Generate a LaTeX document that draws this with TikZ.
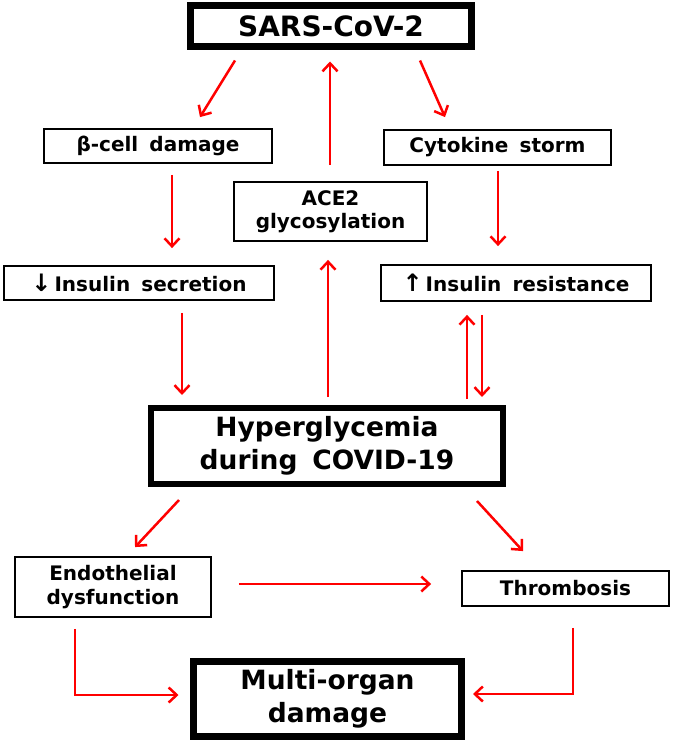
\documentclass[tikz,border=0pt]{standalone}
\usepackage{fontspec}
\setmainfont{DejaVu Sans}[WordSpace={1.6}]
\usepackage{tikz}
\usetikzlibrary{arrows.meta}

\tikzset{
  box/.style={draw, line width=1.8pt, inner sep=0pt, align=center,
    font=\fontsize{20}{23.5}\selectfont\bfseries},
  bigbox/.style={draw, line width=7pt, inner sep=0pt, align=center,
    font=\fontsize{26.5}{32.5}\selectfont\bfseries},
  arr/.style={draw=red, line width=2.5pt, -{Straight Barb[length=8pt,width=15pt]}}
}

\begin{document}
\begin{tikzpicture}[x=1pt, y=-1pt]
    \useasboundingbox (0,0) rectangle (673,743);
    \node (sars) [bigbox, font=\fontsize{28}{32}\selectfont\bfseries, minimum width=281pt, minimum height=41pt] at (331,26) {SARS-CoV-2};
    \node (beta) [box, minimum width=228pt, minimum height=34pt] at (158,146) {β-cell damage};
    \node (cyto) [box, minimum width=227pt, minimum height=35pt] at (497.5,147.5) {Cytokine storm};
    \node (ace) [box, minimum width=193pt, minimum height=59pt] at (330.5,211.5) {ACE2\\glycosylation};
    \node (isec) [box, minimum width=270pt, minimum height=34pt] at (139,283) {{\fontsize{24}{24}\selectfont↓}\hspace{0.15em}Insulin secretion};
    \node (ires) [box, minimum width=270pt, minimum height=36pt] at (516,283) {{\fontsize{24}{24}\selectfont↑}\hspace{0.15em}Insulin resistance};
    \node (hyper) [bigbox, line width=6pt, minimum width=352pt, minimum height=76pt] at (327,446) {Hyperglycemia\\during COVID-19};
    \node (endo) [box, minimum width=196pt, minimum height=60pt] at (113,587) {Endothelial\\dysfunction};
    \node (thromb) [box, minimum width=207pt, minimum height=35pt] at (565.5,588.5) {Thrombosis};
    \node (multi) [bigbox, minimum width=268pt, minimum height=75pt] at (327.5,699) {Multi-organ\\damage};
    % top part
    \draw [arr] ([xshift=-96pt,yshift=-10.5pt]sars.south) -- ([xshift=42pt,yshift=11pt]beta.north);
    \draw [arr] ([xshift=89pt,yshift=-10.5pt]sars.south) -- ([xshift=-52.5pt,yshift=12pt]cyto.north);
    \draw [arr] ([xshift=-0.5pt,yshift=16pt]ace.north) -- ([xshift=-1pt,yshift=-11.5pt]sars.south);
    \draw [arr] ([xshift=14pt,yshift=-11pt]beta.south) -- ([xshift=33pt,yshift=17pt]isec.north);
    \draw [arr] ([xshift=0.5pt,yshift=-5pt]cyto.south) -- ([xshift=-18pt,yshift=18pt]ires.north);
    % into and out of hyperglycemia
    \draw [arr] ([xshift=43pt,yshift=-12pt]isec.south) -- ([xshift=-145pt,yshift=10pt]hyper.north);
    \draw [arr] ([xshift=1pt,yshift=8pt]hyper.north) -- ([xshift=-2.5pt,yshift=-18pt]ace.south);
    \draw [arr] ([xshift=140pt,yshift=6pt]hyper.north) -- ([xshift=-49pt,yshift=-13pt]ires.south);
    \draw [arr] ([xshift=-34pt,yshift=-13pt]ires.south) -- ([xshift=155pt,yshift=8pt]hyper.north);
    \draw [arr] ([xshift=-148pt,yshift=-13pt]hyper.south) -- ([xshift=22pt,yshift=9pt]endo.north);
    \draw [arr] ([xshift=150pt,yshift=-14pt]hyper.south) -- ([xshift=-42.5pt,yshift=19pt]thromb.north);
    % bottom part
    \draw [arr] ([xshift=27pt,yshift=3pt]endo.east) -- ([xshift=-30pt,yshift=4.5pt]thromb.west);
    \draw [arr] ([xshift=-38pt,yshift=-11pt]endo.south) |- ([xshift=-11.5pt,yshift=4pt]multi.west);
    \draw [arr] ([xshift=7.5pt,yshift=-21pt]thromb.south) |- ([xshift=8pt,yshift=5pt]multi.east);
\end{tikzpicture}
\end{document}
